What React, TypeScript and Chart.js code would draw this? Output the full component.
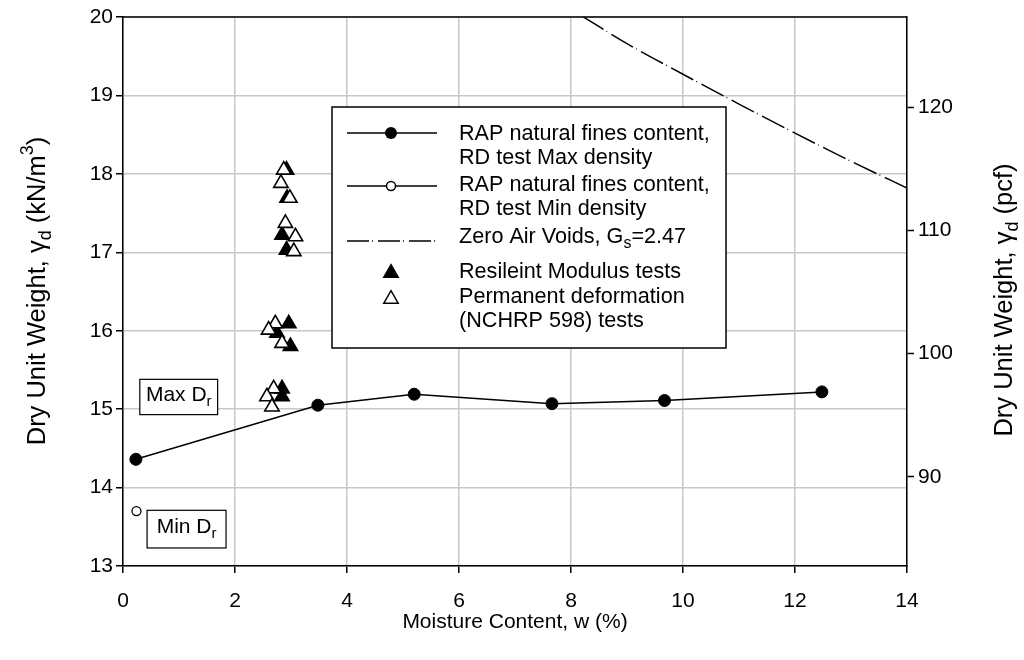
import React, { useEffect, useRef } from 'react';
import { Chart, registerables } from 'chart.js';

Chart.register(...registerables);

// ---- data ----
const maxDensityW = [0.23, 3.48, 5.2, 7.66, 9.67, 12.48];
const maxDensityY = [14.36, 15.05, 15.19, 15.07, 15.11, 15.22];
const minDensityW = [0.24];
const minDensityY = [13.7];
const zavW = [8.2, 9, 10, 11, 12, 13, 14];
const zavY = [20.01, 19.66, 19.27, 18.89, 18.52, 18.16, 17.82];
const mrW = [2.92, 2.93, 2.84, 2.92, 2.96, 2.75, 2.99, 2.84, 2.84];
const mrY = [18.05, 17.69, 17.22, 17.03, 16.09, 15.97, 15.8, 15.26, 15.16];
const pdW = [2.87, 2.82, 2.98, 2.9, 3.08, 3.05, 2.72, 2.6, 2.84, 2.69, 2.57, 2.66];
const pdY = [18.05, 17.88, 17.69, 17.37, 17.2, 17.01, 16.09, 16.01, 15.84, 15.26, 15.16, 15.03];
const xTicks = [0, 2, 4, 6, 8, 10, 12, 14];
const yTicks = [13, 14, 15, 16, 17, 18, 19, 20];
const pcfTicks = [90, 100, 110, 120];
const KN_TO_PCF = 6.3659;

const FONT = '"Liberation Sans", Arial, Helvetica, sans-serif';

type Seg = { t: string; sub?: boolean; sup?: boolean };

function segFont(size: number, s: Seg) {
  const fs = s.sub || s.sup ? Math.round(size * 0.72) : size;
  return `${fs}px ${FONT}`;
}

function richWidth(ctx: CanvasRenderingContext2D, segs: Seg[], size: number) {
  let w = 0;
  for (const s of segs) {
    ctx.font = segFont(size, s);
    w += ctx.measureText(s.t).width;
  }
  return w;
}

function drawRich(
  ctx: CanvasRenderingContext2D,
  segs: Seg[],
  x: number,
  y: number,
  size: number,
  align: 'left' | 'center'
) {
  let cx = x;
  if (align === 'center') cx = x - richWidth(ctx, segs, size) / 2;
  ctx.textAlign = 'left';
  ctx.textBaseline = 'middle';
  for (const s of segs) {
    ctx.font = segFont(size, s);
    const dy = s.sub ? size * 0.32 : s.sup ? -size * 0.38 : 0;
    ctx.fillText(s.t, cx, y + dy);
    cx += ctx.measureText(s.t).width;
  }
}

const decorPlugin = {
  id: 'decor',
  afterDraw(chart: any) {
    const ctx: CanvasRenderingContext2D = chart.ctx;
    const ca = chart.chartArea;
    const xs = chart.scales.x;
    const ys = chart.scales.y;
    ctx.save();
    ctx.fillStyle = '#000';
    ctx.strokeStyle = '#000';

    // top frame line
    ctx.lineWidth = 1.5;
    ctx.beginPath();
    ctx.moveTo(ca.left, ca.top);
    ctx.lineTo(ca.right, ca.top);
    ctx.stroke();

    // ---- legend ----
    const lx = 332, ly = 107, lw = 394, lh = 241;
    ctx.fillStyle = '#fff';
    ctx.fillRect(lx, ly, lw, lh);
    ctx.strokeStyle = '#000';
    ctx.lineWidth = 1.5;
    ctx.strokeRect(lx, ly, lw, lh);
    ctx.fillStyle = '#000';

    const symL = 347, symR = 437, symC = 391, txtX = 459, fs = 21.6;
    // row 1: filled circle with line
    ctx.lineWidth = 1.5;
    ctx.beginPath(); ctx.moveTo(symL, 133); ctx.lineTo(symR, 133); ctx.stroke();
    ctx.beginPath(); ctx.arc(symC, 133, 6, 0, Math.PI * 2); ctx.fill();
    drawRich(ctx, [{ t: 'RAP natural fines content,' }], txtX, 134, fs, 'left');
    drawRich(ctx, [{ t: 'RD test Max density' }], txtX, 158, fs, 'left');
    // row 2: open circle
    ctx.beginPath(); ctx.moveTo(symL, 186); ctx.lineTo(symR, 186); ctx.stroke();
    ctx.beginPath(); ctx.arc(symC, 186, 4.5, 0, Math.PI * 2);
    ctx.fillStyle = '#fff'; ctx.fill(); ctx.stroke(); ctx.fillStyle = '#000';
    drawRich(ctx, [{ t: 'RAP natural fines content,' }], txtX, 185, fs, 'left');
    drawRich(ctx, [{ t: 'RD test Min density' }], txtX, 209, fs, 'left');
    // row 3: dashed
    ctx.setLineDash([22, 3, 1, 5]);
    ctx.beginPath(); ctx.moveTo(symL, 241); ctx.lineTo(symR, 241); ctx.stroke();
    ctx.setLineDash([]);
    drawRich(
      ctx,
      [{ t: 'Zero Air Voids, G' }, { t: 's', sub: true }, { t: '=2.47' }],
      txtX, 237, fs, 'left'
    );
    // rows 4-5: triangles
    const tri = (cx: number, cy: number, r: number, fill: string) => {
      ctx.beginPath();
      ctx.moveTo(cx, cy - r);
      ctx.lineTo(cx + r * 0.866, cy + r * 0.5);
      ctx.lineTo(cx - r * 0.866, cy + r * 0.5);
      ctx.closePath();
      ctx.fillStyle = fill;
      ctx.fill();
      ctx.stroke();
      ctx.fillStyle = '#000';
    };
    tri(symC, 273, 8.3, '#000');
    drawRich(ctx, [{ t: 'Resileint Modulus tests' }], txtX, 272, fs, 'left');
    tri(symC, 299, 8.3, '#fff');
    drawRich(ctx, [{ t: 'Permanent deformation' }], txtX, 297, fs, 'left');
    drawRich(ctx, [{ t: '(NCHRP 598) tests' }], txtX, 321, fs, 'left');

    // ---- Max Dr / Min Dr boxes (anchored to data scales) ----
    const box = (x0: number, y0: number, x1: number, y1: number, label: string) => {
      const px0 = xs.getPixelForValue(x0), px1 = xs.getPixelForValue(x1);
      const py0 = ys.getPixelForValue(y0), py1 = ys.getPixelForValue(y1);
      ctx.fillStyle = '#fff';
      ctx.fillRect(px0, py0, px1 - px0, py1 - py0);
      ctx.lineWidth = 1.2;
      ctx.strokeRect(px0, py0, px1 - px0, py1 - py0);
      ctx.fillStyle = '#000';
      drawRich(ctx, [{ t: label + ' D' }, { t: 'r', sub: true }], (px0 + px1) / 2, (py0 + py1) / 2 - 2, 21, 'center');
    };
    box(0.3, 15.38, 1.69, 14.93, 'Max');
    box(0.43, 13.71, 1.84, 13.23, 'Min');

    // ---- axis titles ----
    drawRich(ctx, [{ t: 'Moisture Content, w (%)' }], (ca.left + ca.right) / 2, 622, 21, 'center');
    ctx.save();
    ctx.translate(38, 291);
    ctx.rotate(-Math.PI / 2);
    drawRich(
      ctx,
      [{ t: 'Dry Unit Weight, γ' }, { t: 'd', sub: true }, { t: ' (kN/m' }, { t: '3', sup: true }, { t: ')' }],
      0, 0, 25.5, 'center'
    );
    ctx.restore();
    ctx.save();
    ctx.translate(1005, 300);
    ctx.rotate(-Math.PI / 2);
    drawRich(ctx, [{ t: 'Dry Unit Weight, γ' }, { t: 'd', sub: true }, { t: ' (pcf)' }], 0, 0, 25.5, 'center');
    ctx.restore();

    ctx.restore();
  },
};

export default function App() {
  const ref = useRef<HTMLCanvasElement | null>(null);

  useEffect(() => {
    if (!ref.current) return;
    Chart.defaults.font.family = FONT;
    Chart.defaults.color = '#000';
    const pts = (xs: number[], ys: number[]) => xs.map((x, i) => ({ x, y: ys[i] }));
    const gridColor = '#c8c8c8';
    const chart = new Chart(ref.current, {
      type: 'scatter',
      data: {
        datasets: [
          {
            label: 'RAP natural fines content, RD test Max density',
            data: pts(maxDensityW, maxDensityY),
            showLine: true,
            borderColor: '#000',
            borderWidth: 1.5,
            backgroundColor: '#000',
            pointRadius: 6,
            pointBorderWidth: 1,
            order: 1,
          },
          {
            label: 'RAP natural fines content, RD test Min density',
            data: pts(minDensityW, minDensityY),
            showLine: false,
            borderColor: '#000',
            backgroundColor: '#fff',
            pointRadius: 4.5,
            pointBorderWidth: 1.3,
            order: 2,
          },
          {
            label: 'Zero Air Voids, Gs=2.47',
            data: pts(zavW, zavY),
            showLine: true,
            borderColor: '#000',
            borderWidth: 1.5,
            borderDash: [25, 3.5, 0.8, 5],
            pointRadius: 0,
            cubicInterpolationMode: 'monotone',
            order: 5,
          },
          {
            label: 'Permanent deformation (NCHRP 598) tests',
            data: pts(pdW, pdY),
            showLine: false,
            pointStyle: 'triangle',
            pointRadius: 8.3,
            borderColor: '#000',
            backgroundColor: '#fff',
            pointBorderWidth: 1.6,
            order: 3,
          },
          {
            label: 'Resileint Modulus tests',
            data: pts(mrW, mrY),
            showLine: false,
            pointStyle: 'triangle',
            pointRadius: 8.3,
            borderColor: '#000',
            backgroundColor: '#000',
            pointBorderWidth: 1.6,
            order: 4,
          },
        ],
      },
      options: {
        animation: false,
        responsive: false,
        layout: { padding: { top: 17, left: 0, right: 0, bottom: 0 } },
        plugins: { legend: { display: false }, tooltip: { enabled: false } },
        scales: {
          x: {
            type: 'linear',
            min: 0,
            max: 14,
            afterBuildTicks: (s: any) => { s.ticks = xTicks.map((v) => ({ value: v })); },
            afterFit: (s: any) => { s.height = 94; },
            ticks: { font: { size: 21 }, color: '#000', padding: 16 },
            grid: { color: gridColor, lineWidth: 1.5, tickLength: 7, tickColor: '#000', tickWidth: 1.5 },
            border: { color: '#000', width: 1.5 },
          },
          y: {
            type: 'linear',
            position: 'left',
            min: 13,
            max: 20,
            afterBuildTicks: (s: any) => { s.ticks = yTicks.map((v) => ({ value: v })); },
            afterFit: (s: any) => { s.width = 123; },
            ticks: { font: { size: 21 }, color: '#000', padding: 3 },
            grid: { color: gridColor, lineWidth: 1.5, tickLength: 7, tickColor: '#000', tickWidth: 1.5 },
            border: { color: '#000', width: 1.5 },
          },
          y2: {
            type: 'linear',
            position: 'right',
            min: 13 * KN_TO_PCF,
            max: 20 * KN_TO_PCF,
            afterBuildTicks: (s: any) => { s.ticks = pcfTicks.map((v) => ({ value: v })); },
            afterFit: (s: any) => { s.width = 117; },
            ticks: { font: { size: 21 }, color: '#000', padding: 4 },
            grid: { drawOnChartArea: false, tickLength: 7, tickColor: '#000', tickWidth: 1.5, color: '#000' },
            border: { color: '#000', width: 1.5 },
          },
        },
      } as any,
      plugins: [decorPlugin],
    });
    return () => chart.destroy();
  }, []);

  return (
    <div style={{ position: 'fixed', left: 0, top: 0, width: 1024, height: 660, background: '#fff' }}>
      <canvas ref={ref} width={1024} height={660} style={{ display: 'block' }} />
    </div>
  );
}
